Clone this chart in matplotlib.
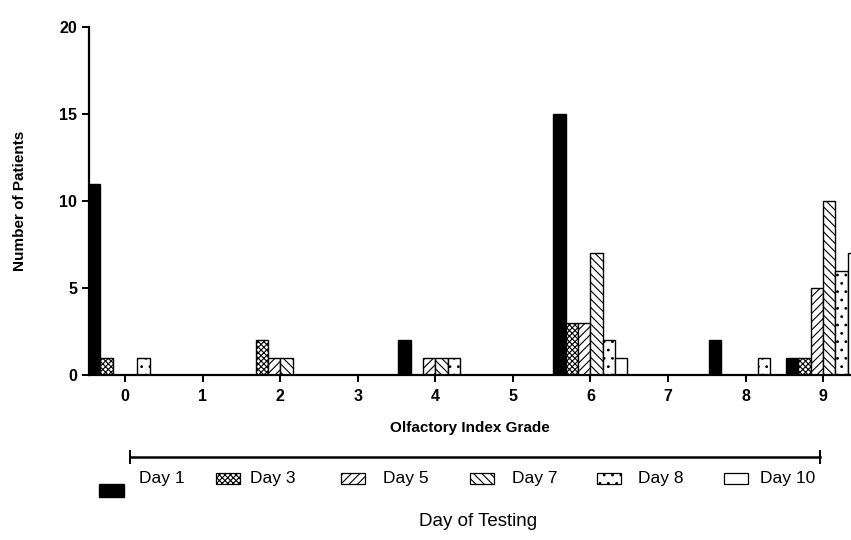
import numpy as np
import matplotlib
matplotlib.use("Agg")
import matplotlib.pyplot as plt
from matplotlib.patches import Rectangle
from matplotlib.lines import Line2D

# grade 0..9, one list per testing day
grades = list(range(10))
days = ["Day 1", "Day 3", "Day 5", "Day 7", "Day 8", "Day 10"]
day1 = [11, 0, 0, 0, 2, 0, 15, 0, 2, 1]
day3 = [1, 0, 2, 0, 0, 0, 3, 0, 0, 1]
day5 = [0, 0, 1, 0, 1, 0, 3, 0, 0, 5]
day7 = [0, 0, 1, 0, 1, 0, 7, 0, 0, 10]
day8 = [1, 0, 0, 0, 1, 0, 2, 0, 1, 6]
day10 = [0, 0, 0, 0, 0, 0, 1, 0, 0, 7]
series = [day1, day3, day5, day7, day8, day10]

faces = ["black", "white", "white", "white", "white", "white"]
hatches = [None, "xxxxxx", "////", "\\\\\\\\", "..", None]

plt.rcParams["font.family"] = ["Liberation Sans", "DejaVu Sans"]
plt.rcParams["hatch.linewidth"] = 0.8

W, H = 851, 540
fig = plt.figure(figsize=(W / 100, H / 100), dpi=100)

def fx(x):
    return x / W

def fy(y):
    return 1 - y / H

ax = fig.add_axes([fx(89), fy(375), fx(851 - 89), (375 - 27) / H])

x = np.arange(len(grades))
w = 0.159
for i, vals in enumerate(series):
    ax.bar(x + (i - 2.5) * w, vals, width=w, color=faces[i], hatch=hatches[i],
           edgecolor="black", linewidth=1.0, align="center")

ax.set_xlim(-0.465, 9.36)
ax.set_ylim(0, 20)
ax.set_xticks(grades)
ax.set_yticks([0, 5, 10, 15, 20])
ax.spines["top"].set_visible(False)
ax.spines["right"].set_visible(False)
ax.spines["left"].set_linewidth(1.6)
ax.spines["bottom"].set_linewidth(1.6)
ax.tick_params(direction="out", length=5, width=1.4, labelsize=11.5)
ax.tick_params(axis="x", pad=5)
for lab in ax.get_xticklabels() + ax.get_yticklabels():
    lab.set_fontweight("bold")
ax.set_xlabel("Olfactory Index Grade", fontsize=11, fontweight="bold", labelpad=12)
ax.set_ylabel("Number of Patients", fontsize=11, fontweight="bold", labelpad=23)

# timeline bar under the axis
fig.add_artist(Line2D([fx(130), fx(820)], [fy(457), fy(457)], color="black", lw=1.8))
for xe in (130, 820):
    fig.add_artist(Line2D([fx(xe), fx(xe)], [fy(451), fy(463)], color="black", lw=1.4))

# legend row
icon_x = [99, 216, 341, 470, 597, 724]
text_x = [139, 250, 383, 512, 638, 760]
for i in range(len(days)):
    if i == 0:
        r = Rectangle((fx(99), fy(497)), fx(25), 13 / H, transform=fig.transFigure,
                      facecolor="black", edgecolor="black", lw=1)
    else:
        r = Rectangle((fx(icon_x[i]), fy(484)), fx(24), 11 / H, transform=fig.transFigure,
                      facecolor="white", edgecolor="black", lw=0.9, hatch=hatches[i])
    fig.add_artist(r)
    fig.text(fx(text_x[i]), fy(478), days[i], fontsize=12.5, va="center", ha="left")

fig.text(fx(478), fy(522), "Day of Testing", fontsize=13.5, ha="center", va="center")

fig.savefig("out.png", dpi=100)
